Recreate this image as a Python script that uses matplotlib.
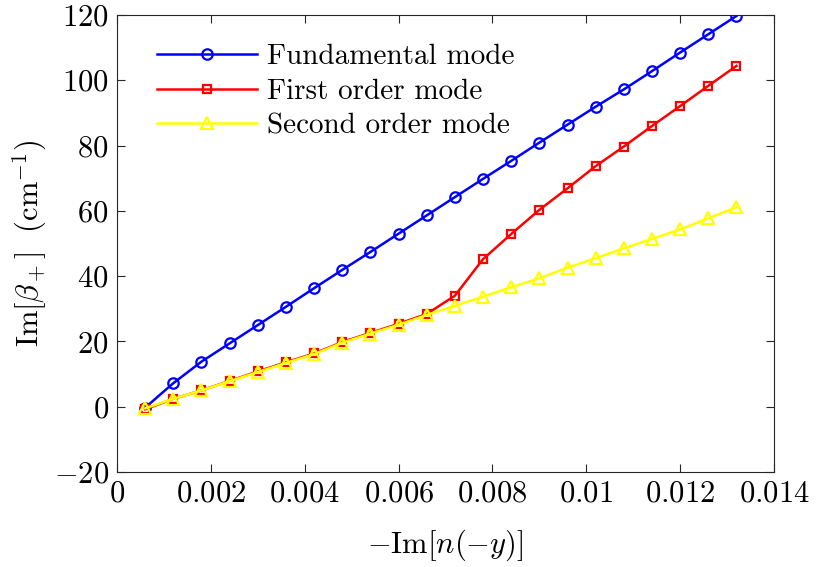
import numpy as np
import matplotlib
matplotlib.use("Agg")
import matplotlib.pyplot as plt

plt.rcParams["font.family"] = "serif"
plt.rcParams["font.serif"] = ["cmr10"]
plt.rcParams["mathtext.fontset"] = "cm"
plt.rcParams["axes.formatter.use_mathtext"] = True

# -Im[n(-y)]
x = [0.0006, 0.0012, 0.0018, 0.0024, 0.0030, 0.0036, 0.0042, 0.0048,
     0.0054, 0.0060, 0.0066, 0.0072, 0.0078, 0.0084, 0.0090, 0.0096,
     0.0102, 0.0108, 0.0114, 0.0120, 0.0126, 0.0132]

fundamental = [-0.3, 7.2, 13.8, 19.4, 25.0, 30.6, 36.3, 41.9, 47.4, 53.0,
               58.6, 64.2, 69.8, 75.3, 80.9, 86.4, 91.9, 97.2, 102.8,
               108.5, 114.1, 119.7]
first_order = [-0.8, 2.4, 5.0, 7.9, 10.8, 13.6, 16.3, 19.8, 22.6, 25.4,
               28.4, 34.0, 45.2, 52.9, 60.3, 66.9, 73.7, 79.7, 86.0,
               92.1, 98.3, 104.4]
second_order = [-0.5, 2.4, 5.0, 7.8, 10.6, 13.4, 16.1, 19.6, 22.4, 25.1,
                28.1, 30.9, 33.7, 36.6, 39.3, 42.6, 45.5, 48.5, 51.4,
                54.3, 57.7, 61.1]

xticks = [0, 0.002, 0.004, 0.006, 0.008, 0.01, 0.012, 0.014]
xtick_labels = ["0", "0.002", "0.004", "0.006", "0.008", "0.01", "0.012", "0.014"]
yticks = [-20, 0, 20, 40, 60, 80, 100, 120]

fig = plt.figure(figsize=(8.21, 5.67), dpi=100)
ax = fig.add_axes([0.1425, 0.1676, 0.8003, 0.806])

ax.plot(x, fundamental, "-o", color="#0000ff", lw=1.8, ms=7.5, mfc="none",
        mew=1.6, label="Fundamental mode")
ax.plot(x, first_order, "-s", color="#ff0000", lw=1.8, ms=6, mfc="none",
        mew=1.6, label="First order mode")
ax.plot(x, second_order, "-^", color="#ffff00", lw=1.8, ms=8, mfc="none",
        mew=1.6, label="Second order mode")

ax.set_xlim(0, 0.014)
ax.set_ylim(-20, 120)
ax.set_xticks(xticks)
ax.set_xticklabels(["$%s$" % s for s in xtick_labels])
ax.set_yticks(yticks)
ax.set_yticklabels(["$%d$" % v for v in yticks])
ax.tick_params(direction="in", top=True, right=True, length=6, width=0.8,
               colors="#262626", labelcolor="black", labelsize=22, pad=6)
for s in ax.spines.values():
    s.set_color("#262626")
    s.set_linewidth(0.8)

ax.set_xlabel(r"$-\mathrm{Im}[n(-y)]$", fontsize=22, labelpad=14)
ax.set_ylabel(r"$\mathrm{Im}[\beta_+]\ \ (\mathrm{cm}^{-1})$", fontsize=22,
              labelpad=3)

ax.legend(loc="upper left", bbox_to_anchor=(0.035, 0.975), frameon=False,
          fontsize=21, handlelength=3.4, handletextpad=0.35,
          labelspacing=0.28, borderaxespad=0.2)

fig.savefig("out.png", dpi=100)
